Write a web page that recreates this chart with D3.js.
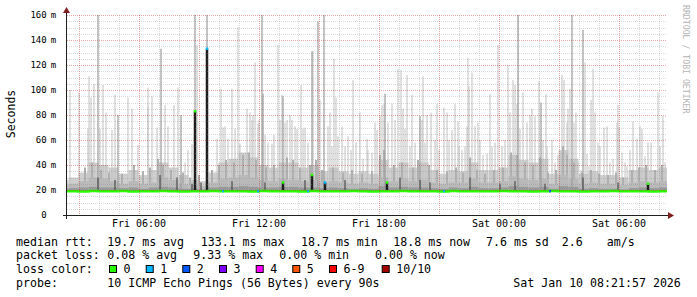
<!DOCTYPE html>
<html>
<head>
<meta charset="utf-8">
<script src="https://cdnjs.cloudflare.com/ajax/libs/d3/7.8.5/d3.min.js"></script>
<style>
  body { margin: 0; background: #fff; }
  text { font-family: "DejaVu Sans Mono", monospace; }
</style>
</head>
<body>
<div id="chart"></div>
<script>
// SVG viewport dimensions
var svgWidth = 697;
var svgHeight = 297;

var margin = { top: 15, left: 67 };
var width = 600;
var height = 200;

// ---------------------------------------------------------------
// data (times are hours since Fri Jan 9 2026 00:00)
var startHour = 2.425;
var endHour = 32.425;

// half hour buckets starting Fri 02:00
var bucketStart = 2.0;
var bucketHours = 0.5;
var lightSmoke = [28,30,34,42,40,38,33,36,32,36,42,38,32,28,27,34,42,45,50,46,40,38,42,42,38,40,35,38,35,33,35,33,44,38,42,38,42,36,33,36,35,42,36,36,38,48,44,42,45,33,52,45,33,35,32,32,30,36,38,36,38];
var midSmoke = [24,25,27,30,29,27,25,27,25,26,30,28,25,24,23,26,29,30,32,30,28,27,29,28,27,28,26,27,26,25,26,25,30,27,29,27,28,26,25,26,26,29,26,26,27,31,29,28,29,25,32,29,25,26,25,25,24,26,27,26,27];
var innerSmoke = [21,21.5,22,22.5,22,22,21.5,22,21,22,22.5,22,21,21,20.5,22,22.5,22.5,23,22.5,22,22,22.5,22.5,22,22,21.5,22,21.5,21,21.5,21,23,22,22.5,22,22,21.5,21,22,21.5,22.5,21.5,21.5,22,23,22.5,22,22.5,21,23,22.5,21,21.5,21,21,20.5,21.5,22,21.5,22];
var medianRtt = [19.0,19.1,18.9,19.2,19.1,19.0,19.2,18.9,19.1,19.0,19.2,19.1,18.9,19.1,19.0,19.2,19.1,19.0,19.1,18.9,19.2,19.0,19.1,19.1,18.9,19.2,19.0,19.1,19.0,19.2,19.1,18.9,19.1,19.0,19.2,19.1,19.0,19.1,18.9,19.2,19.0,19.1,19.1,19.0,19.2,19.1,19.0,18.9,19.1,19.2,19.0,19.1,18.9,19.1,19.0,19.2,19.1,19.0,19.1,18.9,19.1];
var minRtt = 18.7;

// single outlier pings [hour, ms]
var lightSpikes = [
  [2.58,100],[3.03,98],[3.46,69],[3.54,111],[3.61,94],[3.79,105],[4.08,69],[4.24,104],[4.36,82],[4.66,68],
  [4.83,96],[5.49,94],[5.66,85],[5.99,56],[6.46,87],[6.49,102],[6.69,95],[6.91,70],[7.33,88],[7.49,71],
  [7.78,88],[7.96,102],[8.33,42],[8.46,52],[8.66,57],[8.91,136],[9.91,61],[10.13,101],[10.24,70],[10.33,71],
  [10.49,61],[10.69,101],[10.83,69],[10.96,150],[11.08,57],[11.41,85],[11.58,82],[11.66,76],[11.74,80],[11.83,122],
  [11.96,73],[12.03,76],[12.33,64],[12.49,58],[12.66,57],[12.79,64],[12.99,136],[13.08,76],[13.16,96],[13.33,74],
  [13.41,76],[13.58,80],[13.66,76],[13.83,71],[13.94,69],[14.13,104],[14.24,69],[14.33,70],[14.49,58],[14.74,131],
  [15.08,92],[15.46,71],[15.58,82],[15.66,55],[15.79,125],[15.86,94],[15.99,63],[16.16,71],[16.33,55],[16.49,63],
  [16.61,52],[16.74,108],[16.86,58],[17.08,82],[17.24,45],[17.41,61],[17.49,52],[17.66,50],[17.83,74],[17.91,68],
  [18.08,80],[18.19,88],[18.26,89],[18.49,74],[18.69,89],[18.83,76],[18.99,117],[19.13,116],[19.24,85],[19.33,69],
  [19.44,112],[19.58,55],[19.66,96],[19.83,58],[20.16,76],[20.24,111],[20.33,58],[20.41,80],[20.63,82],[20.83,60],
  [20.91,89],[21.03,52],[21.29,86],[21.41,82],[21.53,60],[21.66,68],[21.83,89],[21.96,75],[22.04,55],[22.16,52],
  [22.33,55],[22.41,71],[22.49,126],[22.54,103],[22.66,114],[22.83,71],[22.99,74],[23.08,60],[23.24,48],[23.41,49],
  [23.58,97],[23.66,55],[23.83,58],[23.99,136],[24.16,55],[24.33,60],[24.46,120],[24.58,82],[24.74,108],[24.83,104],
  [24.91,89],[25.08,69],[25.24,98],[25.41,74],[25.58,80],[25.66,85],[25.83,79],[26.04,107],[26.24,60],[26.36,97],
  [26.41,55],[26.66,60],[26.83,42],[26.99,48],[27.13,49],[27.19,112],[27.29,108],[27.41,74],[27.49,85],[27.58,101],
  [27.79,74],[27.86,82],[27.99,42],[28.13,36],[28.33,122],[28.41,49],[28.54,39],[28.61,92],[28.74,117],[28.83,82],
  [28.96,58],[29.08,55],[29.29,70],[29.41,71],[29.58,42],[29.74,45],[29.91,74],[29.96,88],[30.03,70],[30.16,50],
  [30.33,42],[30.41,39],[30.58,52],[30.74,75],[30.91,61],[31.08,71],[31.16,69],[31.33,47],[31.49,58],[31.63,58],
  [31.99,98],[32.08,55],[32.24,79],[32.33,42]
];
// second slowest pings, shorter columns [hour, ms]
var midStubs = [
  [3.33,38],[3.68,42],[4.13,36],[4.53,34],[5.18,33],[5.78,40],[6.23,35],[6.58,38],[6.98,45],[7.23,40],
  [7.63,36],[8.23,34],[8.58,30],[9.03,32],[9.68,36],[10.03,40],[10.38,44],[10.78,42],[11.23,48],[11.53,50],
  [11.88,44],[12.38,38],[12.78,40],[13.43,46],[13.73,44],[14.08,38],[14.58,40],[14.88,44],[15.18,36],[15.73,38],
  [16.23,34],[16.68,36],[17.18,33],[17.68,35],[18.08,48],[18.28,52],[18.78,40],[19.18,42],[19.73,38],[19.98,44],
  [20.53,40],[20.93,36],[21.43,35],[21.88,38],[22.23,34],[22.58,46],[22.93,36],[23.33,33],[23.78,36],[24.23,38],
  [24.63,50],[24.93,48],[25.33,42],[25.73,40],[26.08,46],[26.48,34],[26.88,36],[27.23,55],[27.43,48],[27.78,42],
  [28.18,34],[28.63,36],[29.03,33],[29.48,32],[29.88,34],[30.23,30],[30.68,36],[31.03,38],[31.38,40],[31.83,36],
  [32.18,40]
];
var midSpikes = [
  [3.99,160],[4.96,80],[7.11,133],[8.13,80],[8.83,160],[9.43,160],[12.16,160],[12.24,97],[13.24,95],
  [14.69,131],[14.99,155],[15.28,160],[18.34,97],[20.08,79],[24.96,160],[26.13,90],[27.69,160],[28.24,148]
];
var darkStubs = [
  [3.98,30],[4.83,28],[7.08,32],[7.93,30],[8.68,25],[9.13,26],[10.68,27],[12.33,26],[14.33,28],[16.33,28],
  [19.08,30],[20.08,28],[20.58,26],[22.58,30],[24.08,25],[24.83,27],[26.33,25],[28.23,30],[29.98,26]
];
// median jumps [hour, ms, lost pings]
var medianSpikes = [
  [8.83,83,0],[9.43,133,1],[13.24,26,0],[14.69,32,0],[15.33,26,1],[18.41,26,0],[31.49,25,0]
];
// points on the median with lost pings [hour, lost pings]
var lossDots = [[10.24,1],[11.96,1],[14.49,1],[21.29,1],[26.58,2]];

var lossColors = ["#26ff00","#00b8ff","#0059ff","#7e00ff","#ff00ff","#ff5500","#ff0000","#a10000"];
var lossLabels = ["0","1","2","3","4","5","6-9","10/10"];

var yTicks = [0,20,40,60,80,100,120,140,160];
var xLabelHours = [6,12,18,24,30];

var rttStats = ["19.7 ms avg","133.1 ms max","18.7 ms min","18.8 ms now","7.6 ms sd","2.6","am/s"];
var lossStats = ["0.08 % avg","9.33 % max","0.00 % min","0.00 % now"];
var probeText = "10 ICMP Echo Pings (56 Bytes) every 90s";
var stampText = "Sat Jan 10 08:21:57 2026";

// ---------------------------------------------------------------
var day0 = new Date(2026, 0, 9);
function hourDate(h) { return new Date(day0.getTime() + h * 3600e3); }

var svg = d3.select("#chart")
  .append("svg")
  .attr("width", svgWidth)
  .attr("height", svgHeight);

var chartGroup = svg.append("g")
  .attr("transform", `translate(${margin.left}, ${margin.top})`);

svg.append("defs").append("clipPath").attr("id", "plot")
  .append("rect").attr("x", 0).attr("y", 0).attr("width", width).attr("height", height);

var xScale = d3.scaleTime()
  .domain([hourDate(startHour), hourDate(endHour)])
  .range([0, width]);

var yScale = d3.scaleLinear()
  .domain([0, 160])
  .range([height, 0])
  .clamp(true);

var plot = chartGroup.append("g").attr("clip-path", "url(#plot)");
var baseY = yScale(minRtt);

// smoke bands, from the fastest ping up
function drawBuckets(values, color) {
  plot.append("g").selectAll("rect")
    .data(values)
    .enter()
    .append("rect")
    .attr("x", (d, i) => xScale(hourDate(bucketStart + i * bucketHours)))
    .attr("width", (d, i) => xScale(hourDate(bucketStart + (i + 1) * bucketHours)) - xScale(hourDate(bucketStart + i * bucketHours)))
    .attr("y", d => yScale(d))
    .attr("height", d => baseY - yScale(d))
    .attr("fill", color);
}

function drawSpikes(values, color, w) {
  plot.append("g").selectAll("rect")
    .data(values)
    .enter()
    .append("rect")
    .attr("x", d => Math.round(xScale(hourDate(d[0]))) - w / 2)
    .attr("width", w)
    .attr("y", d => yScale(d[1]))
    .attr("height", d => baseY - yScale(d[1]))
    .attr("fill", color);
}

drawBuckets(lightSmoke, "#cfcfcf");
drawSpikes(lightSpikes, "#c2c2c2", 1);
drawSpikes(midStubs, "#b0b0b0", 2);
drawBuckets(midSmoke, "#b9b9b9");
drawSpikes(midSpikes, "#9c9c9c", 1.2);
drawBuckets(innerSmoke, "#989898");
drawSpikes(darkStubs, "#4c4c4c", 1.2);
drawSpikes(medianSpikes, "#1e1e1e", 2.5);

// median line
var medianPoints = medianRtt.map((d, i) => [bucketStart + i * bucketHours, d]);
medianPoints.push([bucketStart + medianRtt.length * bucketHours, medianRtt[medianRtt.length - 1]]);

var medianLine = d3.line()
  .x(d => xScale(hourDate(d[0])))
  .y(d => yScale(d[1]))
  .curve(d3.curveStepAfter);

plot.append("path")
  .datum(medianPoints)
  .attr("d", medianLine)
  .attr("fill", "none")
  .attr("stroke", lossColors[0])
  .attr("stroke-width", 2.5);

// median markers for jumps and lost pings
plot.append("g").selectAll("rect")
  .data(medianSpikes)
  .enter()
  .append("rect")
  .attr("x", d => Math.round(xScale(hourDate(d[0]))) - 1.25)
  .attr("y", d => yScale(d[1]) - 1.25)
  .attr("width", 2.5)
  .attr("height", 2.5)
  .attr("fill", d => lossColors[d[2]]);

plot.append("g").selectAll("rect")
  .data(lossDots)
  .enter()
  .append("rect")
  .attr("x", d => Math.round(xScale(hourDate(d[0]))) - 1)
  .attr("y", d => yScale(19.1) - 1.25)
  .attr("width", 2)
  .attr("height", 2.5)
  .attr("fill", d => lossColors[d[1]]);

// ---------------------------------------------------------------
// grid
var gridGroup = chartGroup.append("g");

var minorY = d3.range(5, 161, 5);
gridGroup.selectAll(".hgrid")
  .data(minorY)
  .enter()
  .append("line")
  .attr("x1", 0)
  .attr("x2", width)
  .attr("y1", d => Math.round(yScale(d)) + 0.5)
  .attr("y2", d => Math.round(yScale(d)) + 0.5)
  .attr("stroke", d => d % 20 === 0 ? "rgba(200,30,30,0.4)" : "rgba(140,140,140,0.32)")
  .attr("stroke-dasharray", "1,1");

var hourTicks = d3.timeHour.range(hourDate(startHour), hourDate(endHour));
gridGroup.selectAll(".vgrid")
  .data(hourTicks)
  .enter()
  .append("line")
  .attr("x1", d => Math.round(xScale(d)) + 0.5)
  .attr("x2", d => Math.round(xScale(d)) + 0.5)
  .attr("y1", 0)
  .attr("y2", height)
  .attr("stroke", d => d.getHours() % 3 === 0 ? "rgba(200,30,30,0.4)" : "rgba(140,140,140,0.32)")
  .attr("stroke-dasharray", "1,1");

// axes
var bottomAxis = d3.axisBottom(xScale)
  .tickValues(xLabelHours.map(hourDate))
  .tickFormat(d3.timeFormat("%a %H:%M"))
  .tickSize(0)
  .tickPadding(4.4);

var xAxis = chartGroup.append("g")
  .attr("transform", `translate(0, ${height})`)
  .call(bottomAxis);
xAxis.select(".domain").remove();
xAxis.selectAll("text")
  .attr("font-family", "DejaVu Sans Mono")
  .attr("font-size", 10)
  .attr("fill", "#000");

var leftAxis = d3.axisLeft(yScale)
  .tickValues(yTicks)
  .tickFormat(d => d)
  .tickSize(0)
  .tickPadding(20.3);

var yAxis = chartGroup.append("g").call(leftAxis);
yAxis.select(".domain").remove();
yAxis.selectAll("text")
  .attr("font-family", "DejaVu Sans Mono")
  .attr("font-size", 9)
  .attr("fill", "#000");

var unitAxis = d3.axisLeft(yScale)
  .tickValues(yTicks)
  .tickFormat(d => d ? "m" : "")
  .tickSize(0)
  .tickPadding(16.3);

var yUnits = chartGroup.append("g").call(unitAxis);
yUnits.select(".domain").remove();
yUnits.selectAll("text")
  .attr("text-anchor", "start")
  .attr("font-family", "DejaVu Sans Mono")
  .attr("font-size", 9)
  .attr("fill", "#000");

// axis lines and arrows
chartGroup.append("line")
  .attr("x1", -4).attr("x2", width + 4)
  .attr("y1", height + 0.5).attr("y2", height + 0.5)
  .attr("stroke", "#1f1f1f");
chartGroup.append("line")
  .attr("x1", -0.5).attr("x2", -0.5)
  .attr("y1", height + 4).attr("y2", -3)
  .attr("stroke", "#1f1f1f");
chartGroup.append("path")
  .attr("d", `M${width + 1},${height - 3} L${width + 7},${height + 0.5} L${width + 1},${height + 4} Z`)
  .attr("fill", "#7f1f1f");
chartGroup.append("path")
  .attr("d", `M-4,-2 L-0.5,-8 L3,-2 Z`)
  .attr("fill", "#7f1f1f");

// axis title
svg.append("text")
  .attr("transform", "translate(15, 114) rotate(-90)")
  .attr("text-anchor", "middle")
  .attr("font-size", 11.5)
  .text("Seconds");

// watermark
svg.append("text")
  .attr("transform", "translate(683, 5) rotate(90)")
  .attr("font-size", 8.2)
  .attr("fill", "#b4b4b4")
  .text("RRDTOOL / TOBI OETIKER");

// ---------------------------------------------------------------
// legend
var legend = svg.append("g")
  .attr("font-size", 11.6)
  .attr("fill", "#000");

var rowY = [245.5, 259, 273, 286.5];
legend.append("text").attr("x", 16).attr("y", rowY[0]).text("median rtt:");
var rttX = [107.3, 200.7, 301, 393.3, 486, 561.7, 606.7];
rttStats.forEach(function(s, i) {
  legend.append("text").attr("x", rttX[i]).attr("y", rowY[0]).text(s);
});

legend.append("text").attr("x", 16).attr("y", rowY[1]).text("packet loss:");
var lossX = [107.3, 193.3, 279.3, 375];
lossStats.forEach(function(s, i) {
  legend.append("text").attr("x", lossX[i]).attr("y", rowY[1]).text(s);
});

legend.append("text").attr("x", 16).attr("y", rowY[2]).text("loss color:");
var swatchX = [109, 145.7, 182.3, 219, 255.7, 292.3, 329, 381.7];
lossColors.forEach(function(c, i) {
  legend.append("rect")
    .attr("x", swatchX[i] + 0.5)
    .attr("y", 265.5)
    .attr("width", 7)
    .attr("height", 7)
    .attr("fill", c)
    .attr("stroke", "#000")
    .attr("stroke-width", 1);
  legend.append("text")
    .attr("x", swatchX[i] + 14.5)
    .attr("y", rowY[2])
    .text(lossLabels[i]);
});

legend.append("text").attr("x", 16).attr("y", rowY[3]).text("probe:");
legend.append("text").attr("x", 107.3).attr("y", rowY[3]).text(probeText);
legend.append("text").attr("x", 513.3).attr("y", rowY[3]).text(stampText);
</script>
</body>
</html>
